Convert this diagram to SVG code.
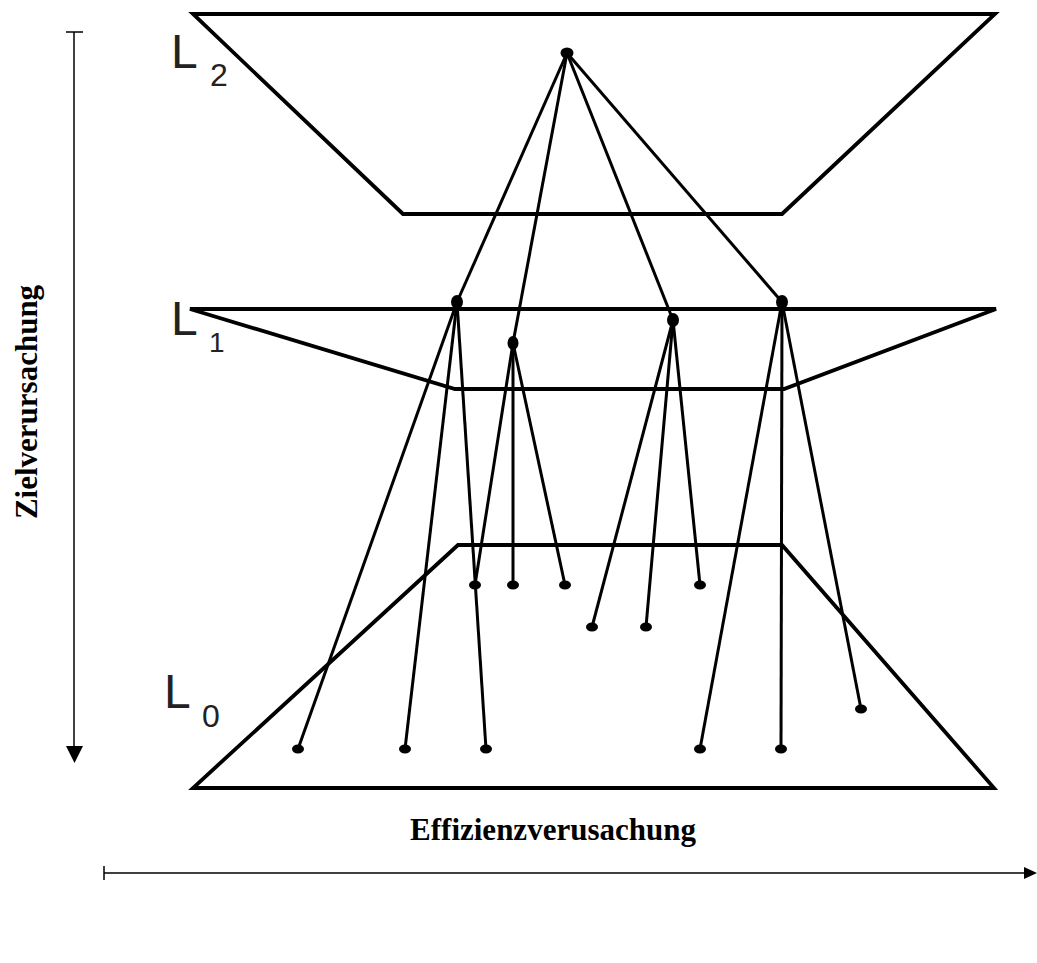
<svg xmlns="http://www.w3.org/2000/svg" width="1037" height="963" viewBox="0 0 1037 963">
<style>
.frame{fill:none;stroke:#000;stroke-width:3.8;stroke-linejoin:miter}
.edge{stroke:#000;stroke-width:3;fill:none}
.node{fill:#000}
.lbl{font-family:"Liberation Sans",Arial,sans-serif;fill:#222}
.axis{stroke:#000;stroke-width:1.5;fill:none}
.title{font-family:"Liberation Serif","Times New Roman",serif;font-weight:bold;font-size:31px;fill:#000}
</style>
<g id="level2">
<polygon class="frame" points="193,14 995,14 782,214 403,214"/>
<text class="lbl" x="171" y="68" font-size="48">L</text>
<text class="lbl" x="210" y="86" font-size="32">2</text>
</g>
<g id="level1">
<polygon class="frame" points="190,309 996,309 784,389 455,389"/>
<text class="lbl" x="171" y="335" font-size="48">L</text>
<text class="lbl" x="209" y="352" font-size="28">1</text>
</g>
<g id="level0">
<polygon class="frame" points="458,545 782,545 994,788 193,788"/>
<text class="lbl" x="164" y="708" font-size="48">L</text>
<text class="lbl" x="202" y="727" font-size="32">0</text>
</g>
<g id="connectors">
<line class="edge" x1="567" y1="53" x2="457" y2="302"/>
<line class="edge" x1="567" y1="53" x2="513" y2="343"/>
<line class="edge" x1="567" y1="53" x2="673" y2="320"/>
<line class="edge" x1="567" y1="53" x2="782" y2="302"/>
<line class="edge" x1="457" y1="302" x2="298" y2="749"/>
<line class="edge" x1="457" y1="302" x2="405" y2="749"/>
<line class="edge" x1="457" y1="302" x2="486" y2="749"/>
<line class="edge" x1="513" y1="343" x2="475" y2="585"/>
<line class="edge" x1="513" y1="343" x2="513" y2="585"/>
<line class="edge" x1="513" y1="343" x2="565" y2="585"/>
<line class="edge" x1="673" y1="320" x2="592" y2="627"/>
<line class="edge" x1="673" y1="320" x2="646" y2="627"/>
<line class="edge" x1="673" y1="320" x2="700" y2="585"/>
<line class="edge" x1="782" y1="302" x2="700" y2="749"/>
<line class="edge" x1="782" y1="302" x2="781" y2="749"/>
<line class="edge" x1="782" y1="302" x2="861" y2="709"/>
</g>
<g id="n-top"><ellipse class="node" cx="567" cy="53" rx="6.5" ry="5.5"/></g>
<g id="n1a"><ellipse class="node" cx="457" cy="302" rx="6" ry="7"/></g>
<g id="n1b"><ellipse class="node" cx="513" cy="343" rx="5.5" ry="7"/></g>
<g id="n1c"><ellipse class="node" cx="673" cy="320" rx="6" ry="7"/></g>
<g id="n1d"><ellipse class="node" cx="782" cy="302" rx="6" ry="7"/></g>
<g id="n0a"><ellipse class="node" cx="475" cy="585" rx="6" ry="4.5"/></g>
<g id="n0b"><ellipse class="node" cx="513" cy="585" rx="6" ry="4.5"/></g>
<g id="n0c"><ellipse class="node" cx="565" cy="585" rx="6" ry="4.5"/></g>
<g id="n0d"><ellipse class="node" cx="700" cy="585" rx="6" ry="4.5"/></g>
<g id="n0e"><ellipse class="node" cx="592" cy="627" rx="6" ry="4.5"/></g>
<g id="n0f"><ellipse class="node" cx="646" cy="627" rx="6" ry="4.5"/></g>
<g id="n0g"><ellipse class="node" cx="861" cy="709" rx="6" ry="4.5"/></g>
<g id="n0h"><ellipse class="node" cx="298" cy="749" rx="6" ry="4.5"/></g>
<g id="n0i"><ellipse class="node" cx="405" cy="749" rx="6" ry="4.5"/></g>
<g id="n0j"><ellipse class="node" cx="486" cy="749" rx="6" ry="4.5"/></g>
<g id="n0k"><ellipse class="node" cx="700" cy="749" rx="6" ry="4.5"/></g>
<g id="n0l"><ellipse class="node" cx="781" cy="749" rx="6" ry="4.5"/></g>
<g id="axis-y">
<line class="axis" x1="66" y1="32" x2="83" y2="32"/>
<line class="axis" x1="74" y1="32" x2="74" y2="748"/>
<polygon points="66,746 83,746 74.5,763" fill="#000"/>
<text class="title" transform="translate(37,402) rotate(-90)" text-anchor="middle">Zielverursachung</text>
</g>
<g id="axis-x">
<line class="axis" x1="104" y1="866" x2="104" y2="880"/>
<line class="axis" x1="104" y1="873" x2="1026" y2="873"/>
<polygon points="1024,867 1037,873 1024,879" fill="#000"/>
<text class="title" x="553" y="840" text-anchor="middle">Effizienzverusachung</text>
</g>
</svg>
